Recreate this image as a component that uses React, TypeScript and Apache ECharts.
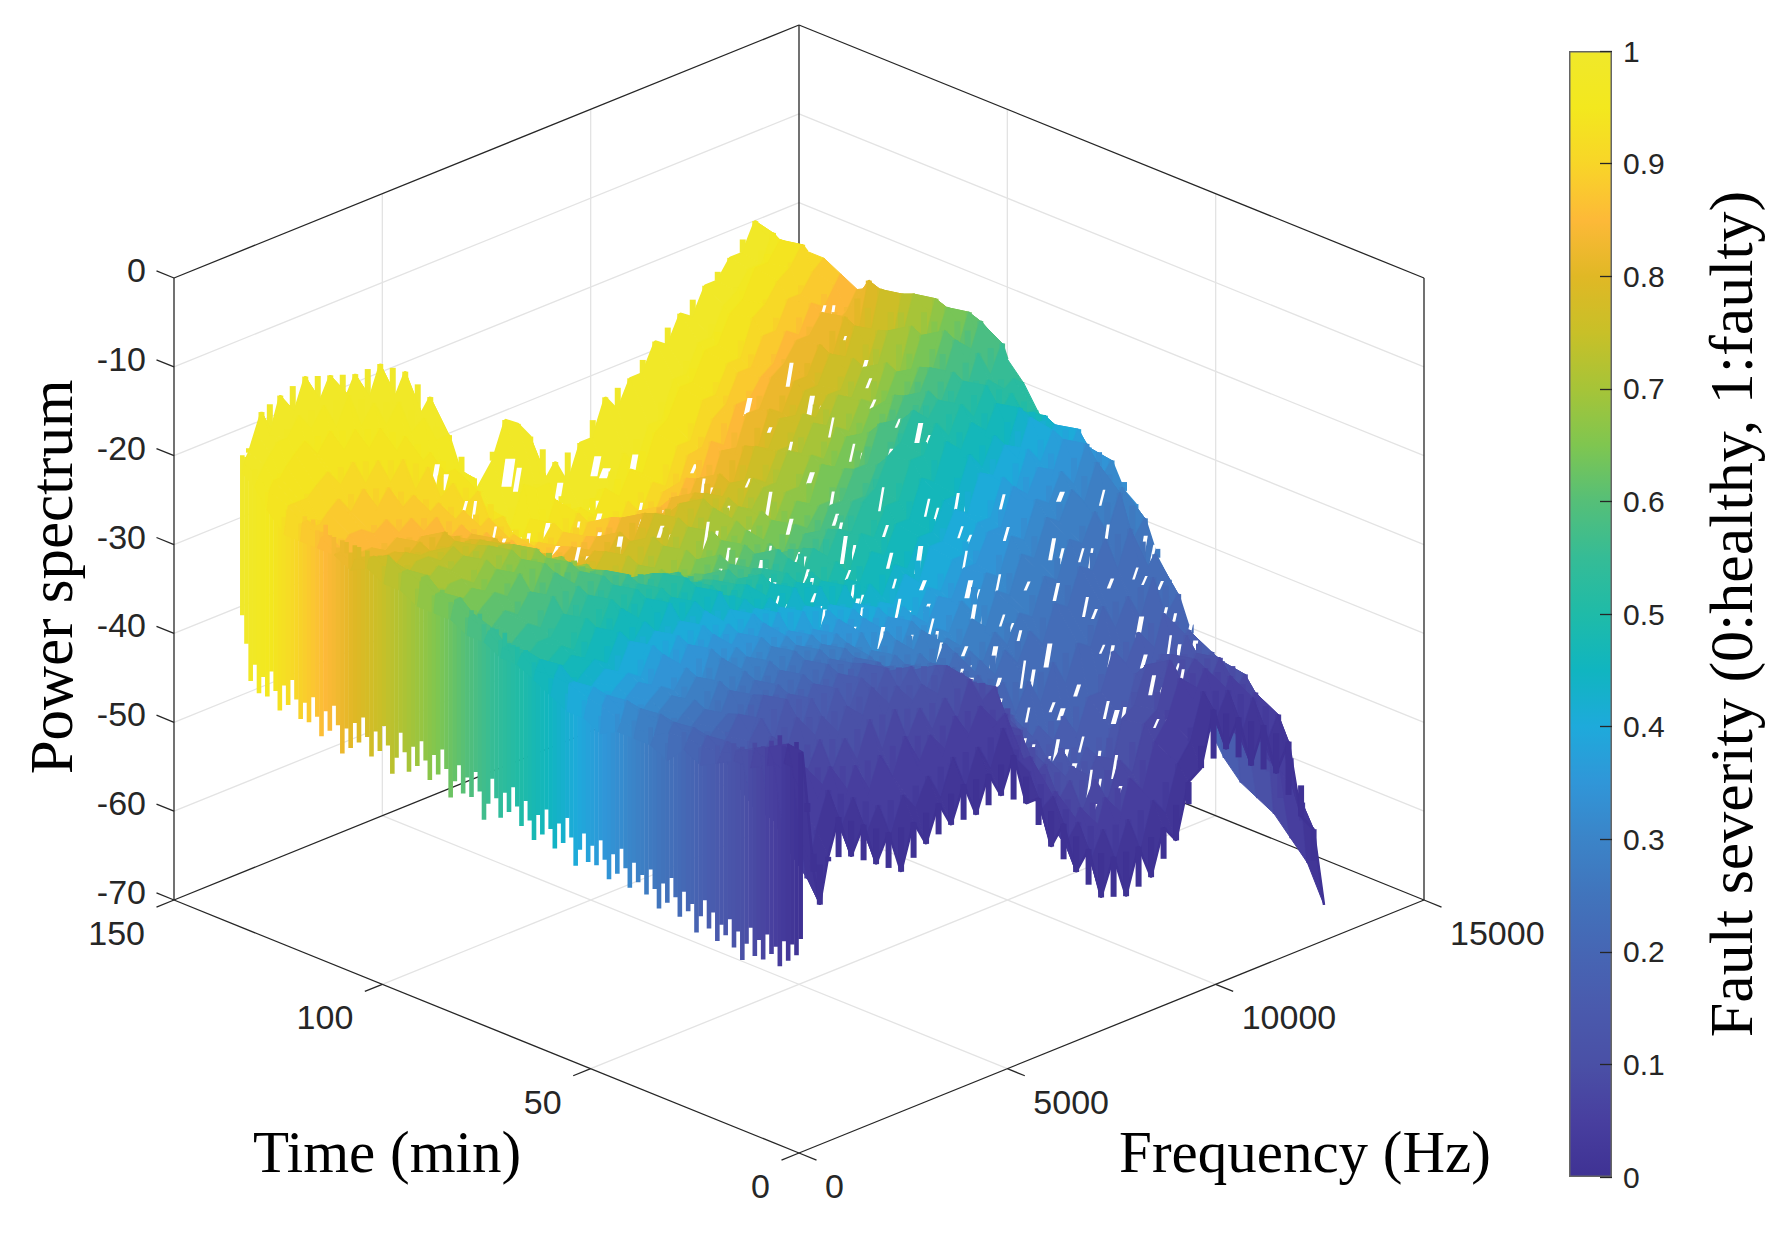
import React, { useEffect, useRef } from "react";
import * as echarts from "echarts";

// Frequency samples (Hz) of each spectrum
const frequencies = [80,200,350,500,700,950,1250,1550,1850,2150,2450,2750,3050,3350,3650,3950,4250,4550,4850,5150,5450,5750,6050,6350,6650,6950,7250,7550,7850,8150,8450,8750,9050,9350,9650,9950,10250,10550,10850,11150,11450,11750,12050,12350,12600];
// Time of each spectrum (min)
const sliceMinutes = [0,4,8,12,16,20,24,28,32,36,40,44,48,52,56,60,64,68,72,76,80,84,88,92,96,100,104,108,112,116,120,124,128,131,134];
// Power spectrum (dB), one row per slice
const spectraDb = [
[-25,-31,-39,-43,-38,-34,-39,-36,-41,-38,-43,-38,-41,-37,-40,-36,-40,-36,-39,-35,-41,-41,-47,-45,-51,-49,-55,-51,-56,-51,-55,-50,-52,-46,-45,-39,-44,-41,-47,-43,-49,-46,-55,-57,-66],
[-25,-29,-36,-41,-36,-32,-37,-34,-39,-36,-40,-36,-38,-35,-38,-34,-38,-34,-37,-33,-37,-39,-44,-43,-49,-47,-52,-49,-53,-49,-53,-48,-50,-45,-43,-38,-42,-39,-45,-41,-47,-44,-52,-55,-62],
[-26,-28,-34,-38,-33,-30,-34,-31,-36,-32,-36,-32,-35,-31,-35,-32,-35,-31,-34,-31,-34,-33,-39,-39,-46,-44,-50,-47,-52,-47,-51,-46,-48,-43,-41,-37,-40,-37,-43,-39,-45,-42,-50,-52,-60],
[-27,-28,-33,-36,-31,-29,-32,-29,-33,-30,-33,-29,-33,-29,-33,-30,-33,-30,-33,-29,-32,-31,-36,-37,-43,-42,-47,-45,-49,-46,-49,-45,-47,-42,-41,-36,-39,-37,-41,-38,-43,-41,-48,-50,-58],
[-28,-28,-32,-35,-30,-28,-31,-27,-32,-28,-32,-28,-31,-27,-31,-28,-31,-29,-32,-28,-33,-31,-36,-35,-41,-40,-45,-43,-47,-45,-48,-45,-48,-42,-41,-37,-39,-37,-41,-38,-42,-40,-46,-49,-57],
[-29,-28,-31,-34,-29,-27,-30,-26,-31,-27,-31,-27,-30,-27,-30,-27,-30,-28,-32,-29,-33,-31,-36,-34,-39,-38,-42,-42,-46,-44,-48,-45,-49,-44,-44,-39,-42,-38,-42,-37,-42,-40,-45,-48,-56],
[-29,-28,-29,-30,-29,-27,-30,-26,-30,-27,-30,-27,-30,-27,-30,-27,-31,-29,-33,-30,-35,-32,-37,-34,-38,-37,-41,-40,-44,-42,-45,-42,-45,-41,-41,-37,-39,-36,-40,-35,-40,-38,-43,-46,-54],
[-29,-28,-29,-30,-29,-28,-30,-27,-30,-27,-30,-27,-30,-27,-31,-28,-32,-29,-33,-31,-35,-32,-36,-33,-37,-35,-38,-37,-41,-38,-41,-37,-40,-36,-37,-33,-36,-33,-36,-32,-37,-35,-40,-43,-51],
[-29,-28,-29,-30,-29,-28,-30,-27,-30,-27,-30,-27,-30,-27,-31,-28,-32,-29,-33,-31,-35,-32,-36,-33,-36,-33,-38,-35,-38,-35,-37,-34,-36,-32,-33,-29,-30,-27,-31,-27,-33,-31,-36,-39,-46],
[-30,-28,-29,-30,-29,-28,-30,-27,-30,-27,-30,-27,-30,-27,-30,-28,-32,-29,-33,-31,-35,-32,-36,-33,-36,-33,-37,-35,-37,-34,-36,-33,-34,-30,-31,-27,-28,-25,-28,-24,-30,-28,-33,-36,-42],
[-30,-28,-29,-30,-29,-28,-29,-27,-30,-26,-30,-27,-30,-27,-30,-28,-31,-29,-33,-30,-34,-32,-36,-32,-35,-32,-36,-34,-36,-33,-35,-31,-32,-28,-29,-25,-26,-23,-25,-21,-27,-25,-30,-32,-37],
[-30,-28,-29,-30,-29,-28,-29,-27,-30,-26,-29,-27,-29,-27,-30,-28,-31,-29,-33,-30,-34,-31,-35,-32,-35,-32,-36,-34,-35,-32,-34,-30,-31,-27,-28,-24,-25,-22,-24,-20,-25,-23,-27,-29,-33],
[-29,-28,-29,-30,-29,-28,-29,-26,-29,-26,-29,-26,-29,-27,-30,-27,-31,-29,-33,-30,-33,-30,-35,-31,-35,-32,-36,-33,-35,-32,-33,-30,-30,-27,-27,-23,-25,-22,-24,-20,-24,-22,-26,-28,-32],
[-29,-28,-29,-30,-29,-28,-29,-26,-29,-26,-29,-26,-29,-27,-29,-27,-31,-28,-32,-29,-33,-30,-34,-31,-35,-32,-36,-33,-35,-32,-33,-30,-30,-27,-27,-23,-25,-21,-23,-20,-24,-21,-25,-27,-30],
[-28,-28,-29,-30,-29,-28,-29,-26,-28,-26,-28,-26,-29,-26,-29,-27,-30,-28,-32,-29,-32,-30,-34,-31,-34,-32,-35,-33,-34,-31,-33,-29,-29,-26,-27,-23,-24,-21,-23,-19,-23,-21,-25,-26,-29],
[-28,-27,-29,-30,-29,-28,-29,-26,-28,-26,-28,-25,-28,-26,-29,-26,-30,-28,-31,-29,-32,-29,-34,-30,-34,-31,-35,-32,-34,-31,-32,-29,-29,-26,-26,-22,-24,-21,-23,-19,-23,-21,-24,-25,-28],
[-28,-27,-29,-30,-29,-28,-29,-26,-28,-25,-28,-25,-28,-26,-29,-26,-30,-28,-31,-28,-32,-29,-33,-30,-33,-31,-34,-32,-33,-30,-31,-28,-28,-24,-25,-21,-23,-20,-22,-19,-23,-21,-24,-24,-27],
[-27,-27,-29,-30,-29,-28,-29,-26,-28,-25,-28,-25,-28,-26,-29,-26,-30,-28,-31,-29,-32,-29,-33,-30,-33,-31,-34,-31,-33,-29,-30,-27,-27,-23,-23,-20,-22,-19,-21,-18,-22,-20,-23,-23,-24],
[-27,-27,-29,-30,-29,-28,-28,-26,-28,-25,-28,-25,-28,-26,-29,-26,-30,-28,-32,-29,-32,-30,-33,-30,-33,-30,-33,-30,-32,-29,-30,-27,-26,-23,-22,-19,-21,-19,-21,-18,-21,-19,-21,-20,-21],
[-26,-26,-28,-29,-28,-27,-28,-25,-28,-25,-28,-25,-28,-26,-29,-27,-31,-28,-32,-30,-33,-30,-34,-31,-34,-30,-34,-31,-33,-30,-31,-28,-28,-25,-25,-21,-22,-19,-21,-18,-21,-17,-20,-17,-19],
[-25,-25,-27,-28,-27,-26,-27,-25,-27,-24,-28,-25,-29,-26,-30,-28,-32,-29,-33,-31,-34,-31,-34,-31,-34,-31,-34,-32,-34,-31,-32,-29,-29,-26,-26,-22,-23,-20,-21,-18,-20,-16,-19,-15,-17],
[-24,-24,-26,-27,-26,-25,-26,-24,-27,-24,-28,-25,-29,-27,-31,-29,-33,-30,-34,-32,-35,-32,-34,-31,-34,-31,-34,-32,-34,-31,-32,-30,-30,-27,-28,-24,-25,-21,-22,-19,-20,-16,-19,-15,-17],
[-24,-24,-25,-26,-26,-25,-26,-24,-26,-24,-28,-25,-29,-27,-31,-29,-33,-31,-35,-33,-36,-33,-35,-32,-34,-31,-34,-31,-34,-31,-33,-30,-31,-27,-28,-25,-26,-23,-23,-20,-21,-17,-19,-15,-17],
[-23,-23,-25,-26,-25,-25,-26,-24,-26,-24,-28,-25,-29,-27,-31,-29,-34,-32,-36,-34,-36,-33,-35,-32,-34,-31,-33,-31,-33,-31,-33,-30,-30,-27,-28,-25,-26,-23,-24,-20,-22,-17,-20,-15,-17],
[-23,-23,-24,-25,-25,-24,-25,-24,-26,-24,-28,-25,-30,-28,-32,-30,-34,-32,-36,-34,-36,-33,-35,-32,-34,-31,-33,-30,-33,-31,-32,-30,-30,-27,-28,-25,-26,-23,-24,-21,-22,-18,-20,-15,-17],
[-22,-23,-24,-25,-24,-24,-25,-24,-26,-25,-28,-26,-30,-28,-32,-30,-34,-32,-36,-34,-36,-33,-35,-32,-34,-31,-33,-30,-33,-31,-33,-30,-31,-28,-28,-25,-26,-24,-24,-21,-23,-19,-22,-16,-17],
[-23,-23,-24,-25,-25,-24,-25,-25,-26,-25,-27,-26,-29,-28,-31,-30,-34,-32,-35,-34,-35,-33,-35,-33,-34,-31,-34,-31,-34,-31,-33,-31,-32,-28,-29,-26,-27,-24,-24,-21,-23,-19,-22,-16,-17],
[-24,-24,-25,-26,-25,-25,-26,-25,-27,-25,-28,-27,-29,-28,-31,-30,-34,-32,-35,-34,-35,-34,-35,-33,-35,-32,-35,-33,-34,-32,-34,-31,-33,-29,-30,-26,-27,-24,-24,-21,-23,-19,-22,-16,-17],
[-24,-24,-25,-26,-25,-25,-26,-25,-27,-26,-28,-27,-29,-28,-32,-30,-33,-32,-35,-34,-35,-34,-36,-34,-36,-33,-36,-34,-36,-33,-35,-32,-34,-30,-31,-27,-27,-24,-23,-21,-21,-19,-21,-20,-18],
[-23,-23,-24,-25,-24,-24,-25,-24,-26,-25,-27,-26,-29,-28,-31,-30,-33,-32,-35,-34,-36,-35,-37,-35,-37,-34,-38,-36,-38,-35,-36,-33,-34,-30,-31,-27,-27,-25,-24,-21,-22,-19,-20,-18,-17],
[-22,-22,-23,-23,-22,-21,-23,-21,-24,-22,-25,-24,-27,-26,-29,-28,-31,-30,-34,-33,-36,-35,-37,-35,-38,-35,-39,-37,-39,-36,-38,-35,-36,-32,-32,-29,-28,-25,-25,-22,-22,-19,-19,-17,-16],
[-21,-21,-21,-21,-20,-19,-21,-19,-22,-20,-23,-21,-25,-23,-27,-26,-29,-28,-32,-32,-36,-36,-37,-35,-38,-35,-39,-37,-39,-36,-38,-35,-36,-32,-32,-28,-28,-25,-25,-21,-20,-18,-17,-15,-16],
[-20,-19,-19,-18,-17,-16,-18,-16,-19,-17,-20,-18,-22,-20,-24,-23,-26,-26,-30,-31,-37,-36,-38,-35,-38,-34,-38,-36,-38,-35,-37,-34,-35,-31,-30,-27,-27,-24,-24,-21,-20,-17,-17,-15,-16],
[-19,-18,-17,-16,-16,-14,-16,-14,-17,-14,-18,-16,-19,-17,-21,-20,-23,-23,-28,-29,-37,-36,-36,-32,-33,-33,-38,-37,-39,-36,-37,-33,-35,-31,-31,-27,-27,-24,-24,-21,-20,-18,-18,-15,-16],
[-18,-17,-15,-13,-16,-12,-15,-11,-15,-12,-16,-13,-17,-13,-18,-15,-21,-19,-27,-28,-33,-31,-29,-25,-26,-28,-34,-32,-35,-31,-31,-27,-29,-26,-26,-23,-24,-21,-22,-19,-19,-17,-17,-14,-16],
];
// First sample of every minute's spectrum (dB): where it starts and where it jumps to
const firstSampleHz = 40;
const edgeLowDb = [
-46,-48,-47,-49,-47,-50,-48,-49,-47,-50,-48,-50,-47,-49,-51,-48,-50,-47,-49,-48,
-50,-47,-49,-46,-48,-50,-47,-48,-46,-49,-47,-45,-48,-46,-49,-47,-45,-48,-46,-47,
-45,-48,-46,-44,-47,-45,-48,-46,-44,-47,-45,-47,-44,-46,-48,-45,-43,-46,-44,-47,
-45,-43,-46,-44,-47,-45,-43,-46,-44,-42,-45,-43,-46,-44,-42,-45,-47,-44,-42,-45,
-43,-45,-42,-44,-46,-43,-41,-44,-42,-45,-43,-41,-44,-42,-45,-43,-41,-44,-46,-43,
-41,-44,-42,-45,-43,-41,-44,-42,-45,-43,-46,-43,-41,-44,-42,-45,-43,-41,-44,-42,
-44,-42,-40,-43,-41,-44,-42,-40,-43,-41,-43,-40,-42,-38,-35];
const edgeHighDb = [
-25,-24,-26,-25,-25,-24,-26,-25,-26,-26,-27,-26,-27,-28,-27,-28,-27,-28,-28,-29,
-28,-29,-28,-29,-29,-28,-29,-29,-28,-30,-29,-29,-30,-29,-29,-30,-29,-30,-29,-30,
-29,-30,-29,-30,-29,-30,-30,-29,-30,-29,-29,-30,-29,-29,-28,-29,-29,-28,-29,-28,
-28,-28,-27,-28,-27,-27,-26,-27,-26,-26,-26,-25,-26,-25,-25,-26,-25,-24,-25,-24,
-25,-24,-24,-25,-24,-24,-23,-24,-24,-23,-24,-23,-24,-23,-23,-24,-23,-23,-22,-23,
-23,-22,-23,-23,-22,-23,-22,-22,-23,-22,-22,-23,-22,-22,-21,-22,-22,-21,-22,-21,
-22,-21,-22,-21,-22,-21,-21,-20,-20,-19,-19,-18,-18,-17,-17];
// For each slice, the frequency columns where white shows between neighbouring spectra
const openColumns = [
[],[],[28,30,33,35],[29,31,34,36],
[25,27,29,31,33,35,37,39],[24,26,29,31,33,36,38,40],[25,28,30,32,34,37,39,41],[24,27,29,31,34,36,38,40],
[26,28,30,33,35,37,40],[25,27,30,32,34,38],[24,26,29,31,36],[23,27,30,33],
[22,25,28,31,34],[21,24,27,29,32],[22,25,28,30,33],[20,23,26,29,32],[21,24,27,30],[22,25,28,31,34],[20,23,26,29,33],
[24,27,30,35],[22,26,31],[24,29,34],[27,32,37],[25,30,35,38],[28,33,39],[24,31,36],[22,27,34,40],[20,25,30,37],
[18,23,28,35,41],[16,21,26,32],[15,20,24,29],[14,19,23,27],[21,25,28,31],[22,26,29],
];
const slitLengths = [14,22,10,28,16,12,24,18,9,20];
const slitWidths = [3,4,2.5,5,3,3.5,2.5];
// Colour bar
const colorStops = ["#3f3294","#483f9f","#4a50a6","#4a5aad","#4666b4","#4174bc","#3b84c8","#3096d8","#1eaadb","#10b5c0","#1fbba8","#35bc96","#55bf78","#7fc650","#a6c438","#c8c028","#e0b825","#fdb938","#f8d528","#f3e81e","#f0e82a"];
const colorBarMax = [1];
// Axis ticks
const powerTicks = [0,-10,-20,-30,-40,-50,-60,-70];
const timeTicks = [0,50,100,150];
const frequencyTicks = [0,5000,10000,15000];
const powerName = "Power spectrum";
const timeName = "Time (min)";
const frequencyName = "Frequency (Hz)";
const severityName = "Fault severity (0:healthy, 1:faulty)";

const FMAX = 15000, TMAX = 150, ZMIN = -70;
const SANS = '"Liberation Sans"', SERIF = '"Liberation Serif"';
const AX = "#262626", GRID = "#e3e3e3";

function project(f: number, t: number, z: number): number[] {
  return [
    799 + 625 * (f / FMAX - t / TMAX),
    1153 - 253 * (f / FMAX + t / TMAX) - (622 * (z - ZMIN)) / -ZMIN,
  ];
}
const colorAt = (t: number) => echarts.color.lerp(Math.min(1, t / 134), colorStops) as string;
// Odd slices are sampled half a step later, as the spectra do not line up from one minute to the next
const freqAt = (i: number, c: number) => (i % 2 && c < frequencies.length - 1 ? (frequencies[c] + frequencies[c + 1]) / 2 : frequencies[c]);

type Item =
  | { k: "line"; a: number[]; b: number[]; c: string; w: number }
  | { k: "text"; p: number[]; s: string; al: string };

function frameItems(): Item[] {
  const out: Item[] = [];
  const seg = (a: number[], b: number[], c: string, w: number) => out.push({ k: "line", a: project(a[0], a[1], a[2]), b: project(b[0], b[1], b[2]), c, w });
  const top = 0;
  for (const z of powerTicks) {
    if (z !== ZMIN && z !== top) {
      seg([0, TMAX, z], [FMAX, TMAX, z], GRID, 1.3);
      seg([FMAX, 0, z], [FMAX, TMAX, z], GRID, 1.3);
    }
  }
  for (const f of frequencyTicks.slice(1, -1)) {
    seg([f, TMAX, ZMIN], [f, TMAX, top], GRID, 1.3);
    seg([f, 0, ZMIN], [f, TMAX, ZMIN], GRID, 1.3);
  }
  for (const t of timeTicks.slice(1, -1)) {
    seg([FMAX, t, ZMIN], [FMAX, t, top], GRID, 1.3);
    seg([0, t, ZMIN], [FMAX, t, ZMIN], GRID, 1.3);
  }
  const box: number[][][] = [
    [[0, TMAX, top], [FMAX, TMAX, top]], [[FMAX, 0, top], [FMAX, TMAX, top]],
    [[0, TMAX, ZMIN], [0, TMAX, top]], [[FMAX, 0, ZMIN], [FMAX, 0, top]], [[FMAX, TMAX, ZMIN], [FMAX, TMAX, top]],
    [[0, TMAX, ZMIN], [FMAX, TMAX, ZMIN]], [[FMAX, 0, ZMIN], [FMAX, TMAX, ZMIN]],
    [[0, 0, ZMIN], [0, TMAX, ZMIN]], [[0, 0, ZMIN], [FMAX, 0, ZMIN]],
  ];
  box.forEach((s) => seg(s[0], s[1], AX, 1.3));
  for (const z of powerTicks) {
    seg([0, TMAX, z], [0, TMAX + 4.2, z], AX, 1.3);
    const p = project(0, TMAX, z);
    out.push({ k: "text", p: [146, p[1] - 8], s: String(z), al: "right" });
  }
  for (const t of timeTicks) {
    seg([0, t, ZMIN], [-420, t, ZMIN], AX, 1.3);
    const p = project(0, t, ZMIN);
    out.push({ k: "text", p: [p[0] - 29, p[1] + 33], s: String(t), al: "right" });
  }
  for (const f of frequencyTicks) {
    seg([f, 0, ZMIN], [f, -4.2, ZMIN], AX, 1.3);
    const p = project(f, 0, ZMIN);
    out.push({ k: "text", p: [p[0] + 26, p[1] + 33], s: String(f), al: "left" });
  }
  return out;
}

type Mark = { kind: "row" | "strip" | "edge"; i: number };

function surfaceMarks(): Mark[] {
  const marks: Mark[] = [];
  for (let i = sliceMinutes.length - 1; i >= 0; i--) {
    if (i < sliceMinutes.length - 1) marks.push({ kind: "strip", i });
    marks.push({ kind: "row", i });
    const next = i > 0 ? sliceMinutes[i - 1] : -1;
    for (let m = sliceMinutes[i]; m > next; m--) marks.push({ kind: "edge", i: m });
  }
  return marks;
}

export default function App() {
  const ref = useRef<HTMLDivElement>(null);
  useEffect(() => {
    if (!ref.current) return;
    const chart = echarts.init(ref.current, undefined, { renderer: "svg" });
    const frame = frameItems();
    const marks = surfaceMarks();

    chart.setOption({
      animation: false,
      backgroundColor: "#ffffff",
      grid: [
        { left: 0, top: 0, width: 1789, height: 1247 },
        { left: 1569, top: 51, width: 43, height: 1126 },
      ],
      xAxis: [
        { type: "value", min: 0, max: 1789, show: false, gridIndex: 0 },
        { type: "category", data: [""], show: false, gridIndex: 1 },
      ],
      yAxis: [
        { type: "value", min: 0, max: 1247, inverse: true, show: false, gridIndex: 0 },
        {
          type: "value", gridIndex: 1, min: 0, max: 1, interval: 0.1, position: "right", z: 6,
          axisLine: { show: false },
          splitLine: { show: false },
          axisTick: { show: true, inside: true, length: 12, lineStyle: { color: AX, width: 1.3 } },
          axisLabel: { color: AX, fontFamily: SANS, fontSize: 30, margin: 11 },
          name: severityName, nameLocation: "middle", nameRotate: 90, nameGap: 88,
          nameTextStyle: { color: "#000", fontFamily: SERIF, fontSize: 62 },
        },
      ],
      series: [
        {
          type: "custom", name: "frame", coordinateSystem: "cartesian2d", xAxisIndex: 0, yAxisIndex: 0, clip: false, silent: true,
          data: frame.map((_, i) => [i, 0]),
          renderItem: (p: any, api: any) => {
            const it = frame[p.dataIndex];
            if (it.k === "line") {
              const a = api.coord(it.a), b = api.coord(it.b);
              return { type: "line", shape: { x1: a[0], y1: a[1], x2: b[0], y2: b[1] }, style: { stroke: it.c, lineWidth: it.w, fill: null } };
            }
            const q = api.coord(it.p);
            return { type: "text", x: q[0], y: q[1], style: { text: it.s, fill: AX, font: `34px ${SANS}`, align: it.al, verticalAlign: "middle" } };
          },
        },
        {
          type: "custom", name: "spectra", coordinateSystem: "cartesian2d", xAxisIndex: 0, yAxisIndex: 0, clip: false, silent: true,
          data: marks.map((_, i) => [i, 0]),
          renderItem: (p: any, api: any) => {
            const m = marks[p.dataIndex];
            const pt = (f: number, t: number, z: number) => api.coord(project(f, t, z));
            if (m.kind === "edge") {
              const a = pt(firstSampleHz, m.i, edgeLowDb[m.i]), b = pt(firstSampleHz, m.i, edgeHighDb[m.i]);
              return { type: "line", shape: { x1: a[0], y1: a[1], x2: b[0], y2: b[1] }, style: { stroke: colorAt(m.i), lineWidth: 4.6, fill: null } };
            }
            if (m.kind === "row") {
              const t = sliceMinutes[m.i];
              const row = spectraDb[m.i];
              const color = colorAt(t);
              const children: any[] = [{
                type: "polyline",
                shape: { points: row.map((z, c) => pt(freqAt(m.i, c), t, z)) },
                style: { stroke: color, lineWidth: 2.5, fill: null, lineJoin: "bevel" },
              }];
              for (let c = 1; c < row.length - 1; c++) {
                const f = freqAt(m.i, c);
                const a = pt(f, t, row[c]), b = pt(f, t, (row[c - 1] + row[c + 1]) / 2);
                children.push({ type: "line", shape: { x1: a[0], y1: a[1], x2: b[0], y2: b[1] }, style: { stroke: color, lineWidth: 6, fill: null } });
              }
              return { type: "group", children };
            }
            const i = m.i;
            const t0 = sliceMinutes[i], t1 = sliceMinutes[i + 1];
            const color = colorAt((t0 + t1) / 2);
            const front = spectraDb[i], back = spectraDb[i + 1];
            const fill = { fill: color, stroke: color, lineWidth: 1 };
            const children: any[] = [{
              type: "polygon",
              shape: { points: [pt(firstSampleHz, t0, edgeHighDb[t0] - 2), pt(freqAt(i, 0), t0, front[0]), pt(freqAt(i + 1, 0), t1, back[0]), pt(firstSampleHz, t1, edgeHighDb[t1] - 2)] },
              style: fill,
            }];
            for (let c = 0; c < frequencies.length - 1; c++) {
              children.push({
                type: "polygon",
                shape: { points: [pt(freqAt(i, c), t0, front[c]), pt(freqAt(i, c + 1), t0, front[c + 1]), pt(freqAt(i + 1, c + 1), t1, back[c + 1]), pt(freqAt(i + 1, c), t1, back[c])] },
                style: fill,
              });
            }
            const boost = i >= 31 ? 2 : 1;
            (openColumns[i] || []).forEach((c, n) => {
              const q = [pt(freqAt(i, c), t0, front[c]), pt(freqAt(i, c + 1), t0, front[c + 1]), pt(freqAt(i + 1, c + 1), t1, back[c + 1]), pt(freqAt(i + 1, c), t1, back[c])];
              const cx = (q[0][0] + q[1][0] + q[2][0] + q[3][0]) / 4, cy = (q[0][1] + q[1][1] + q[2][1] + q[3][1]) / 4;
              const addSlit = (dx: number, dy: number, k: number) => {
                const h = slitLengths[(i + n * 3 + k) % slitLengths.length] / 2, w = (boost * slitWidths[(i * 2 + n + k) % slitWidths.length]) / 2;
                children.push({
                  type: "polygon",
                  shape: { points: [[cx + dx - w + 2, cy + dy - h], [cx + dx + w + 2, cy + dy - h], [cx + dx + w - 2, cy + dy + h], [cx + dx - w - 2, cy + dy + h]] },
                  style: { fill: "#ffffff" },
                });
              };
              addSlit(0, 0, 0);
              if (n % 2 === 0) addSlit(9, 7, 3);
            });
            return { type: "group", children };
          },
        },
        {
          type: "bar", name: "Fault severity", xAxisIndex: 1, yAxisIndex: 1, data: colorBarMax, barWidth: "100%", silent: true,
          itemStyle: {
            borderColor: "#666", borderWidth: 1.5,
            color: new echarts.graphic.LinearGradient(0, 1, 0, 0, colorStops.map((c, i) => ({ offset: i / (colorStops.length - 1), color: c }))),
          },
        },
      ],
      graphic: [
        { type: "text", x: 387, y: 1152, style: { text: timeName, font: `59px ${SERIF}`, fill: "#000", align: "center", verticalAlign: "middle" } },
        { type: "text", x: 1305, y: 1152, style: { text: frequencyName, font: `59px ${SERIF}`, fill: "#000", align: "center", verticalAlign: "middle" } },
        { type: "text", x: 51, y: 577, rotation: Math.PI / 2, style: { text: powerName, font: `61px ${SERIF}`, fill: "#000", align: "center", verticalAlign: "middle" } },
      ],
    });
    return () => chart.dispose();
  }, []);
  return <div ref={ref} style={{ position: "absolute", left: 0, top: 0, width: 1789, height: 1247 }} />;
}
